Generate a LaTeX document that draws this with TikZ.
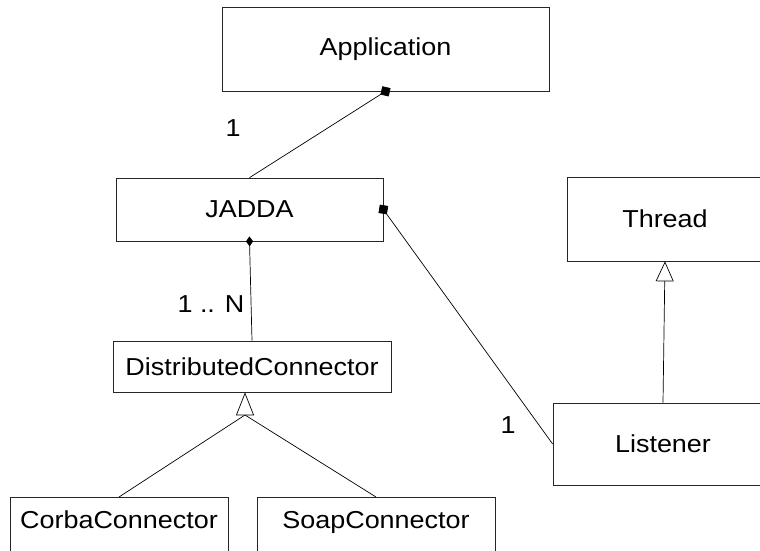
\documentclass[tikz,border=0pt]{standalone}
\usepackage{fontspec}
\setmainfont{Liberation Sans}[FakeStretch=1.1]
\usetikzlibrary{arrows.meta}
\tikzset{
  classbox/.style={draw=black!85, line width=0.7pt, fill=white, inner sep=0pt,
    font=\fontsize{24.5}{28}\selectfont},
  openbox/.style={classbox, anchor=north, text height=31pt, text depth=60pt},
  mult/.style={font=\fontsize{24.5}{28}\selectfont, inner sep=0pt},
  assoc/.style={line width=0.7pt, black},
  comp/.style={assoc, -{Diamond[length=12pt,width=12pt]}, shorten >=-6pt},
  compthin/.style={assoc, -{Diamond[length=10pt,width=7pt]}, shorten >=-5pt},
  inherit/.style={assoc, -{Triangle[open,length=#1,width=18pt,fill=white]}},
}
\begin{document}
\begin{tikzpicture}[x=1pt,y=-1pt]
\useasboundingbox (0,0) rectangle (760,551);
\clip (0,0) rectangle (760,551);

% classes
\node[classbox, minimum width=327pt, minimum height=84pt] (app) at (385.5,49) {Application};
\node[classbox, minimum width=267pt, minimum height=63pt] (jadda) at (249.5,209.5) {JADDA};
\node[classbox, minimum width=196pt, minimum height=84pt] (thread) at (665,219) {Thread};
\node[classbox, minimum width=278pt, minimum height=51pt] (dc) at (252,366.5) {DistributedConnector};
\node[classbox, minimum width=220pt, minimum height=82pt] (listener) at (663,444) {Listener};
\node[openbox, minimum width=218pt] (corba) at (119,497) {CorbaConnector};
\node[openbox, minimum width=238pt] (soap) at (376,497) {SoapConnector};

% multiplicities
\node[mult] (m1) at (233,128) {1};
\node[mult] (m2) at (211,304) {1 .. N};
\node[mult] (m3) at (508,425) {1};

% compositions
\draw[comp] (jadda.north) -- (app.south);
\draw[comp] (listener.west) -- (jadda.east);
\draw[compthin] (dc.north) -- (jadda.south);

% generalisations
\draw[inherit=20pt] (listener.north) -- (thread.south);
\coordinate (gen) at (245,415);
\draw[assoc] (corba.north) -- (gen);
\draw[assoc] (soap.north) -- (gen);
\draw[inherit=23pt] (gen) -- (gen |- dc.south);
\end{tikzpicture}
\end{document}
